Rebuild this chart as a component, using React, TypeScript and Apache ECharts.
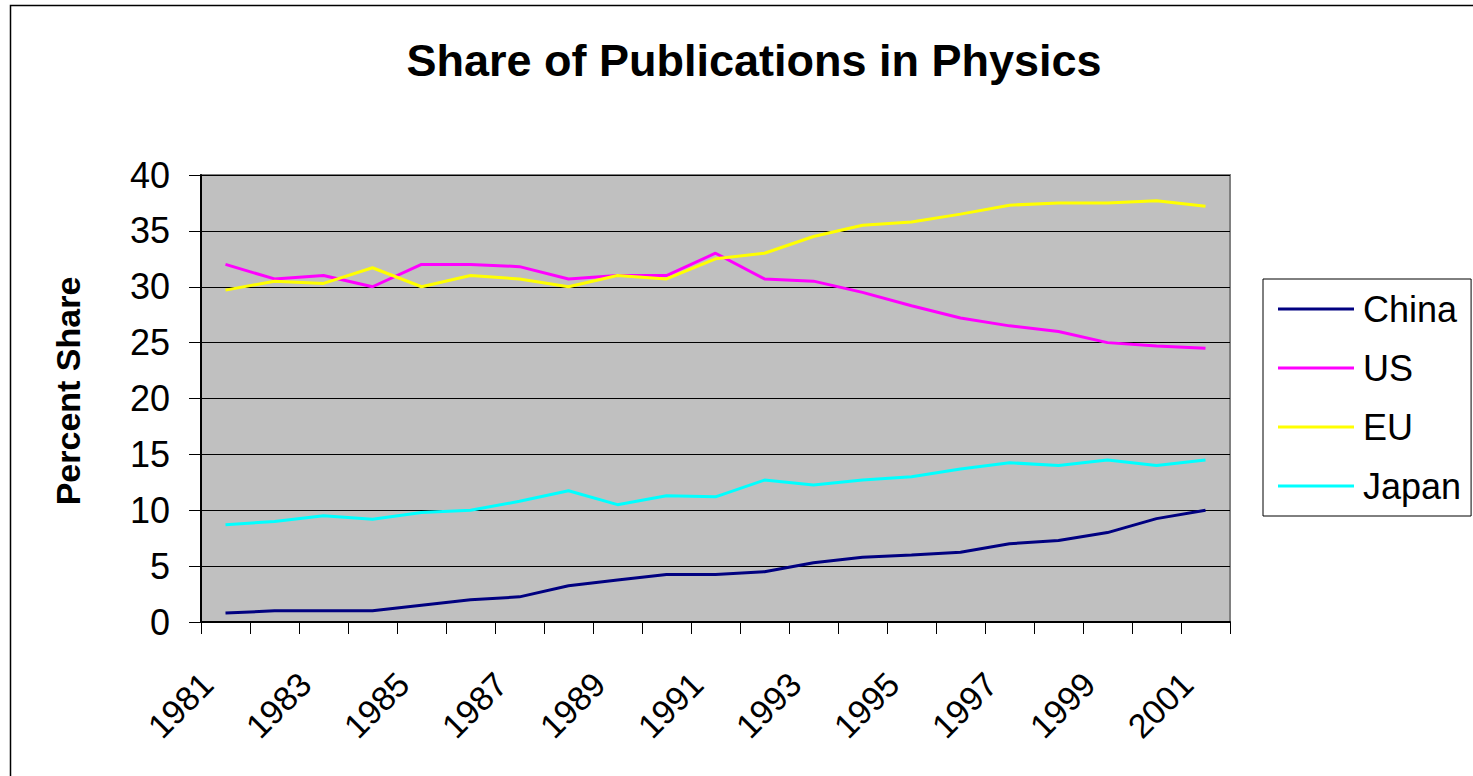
import React, { useEffect, useRef } from "react";
import * as echarts from "echarts";

const years = ["1981","1982","1983","1984","1985","1986","1987","1988","1989","1990","1991","1992","1993","1994","1995","1996","1997","1998","1999","2000","2001"];
const china = [0.8,1.0,1.0,1.0,1.5,2.0,2.25,3.25,3.75,4.25,4.25,4.5,5.3,5.8,6.0,6.25,7.0,7.3,8.0,9.25,10.0];
const us = [32.0,30.7,31.0,30.0,32.0,32.0,31.8,30.7,31.0,31.0,33.0,30.7,30.5,29.5,28.3,27.2,26.5,26.0,25.0,24.7,24.5];
const eu = [29.7,30.5,30.3,31.7,30.0,31.0,30.7,30.0,31.0,30.7,32.5,33.0,34.5,35.5,35.8,36.5,37.3,37.5,37.5,37.7,37.2];
const japan = [8.7,9.0,9.5,9.2,9.8,10.0,10.8,11.75,10.5,11.3,11.2,12.7,12.25,12.7,13.0,13.7,14.25,14.0,14.5,14.0,14.5];
const seriesNames = ["China","US","EU","Japan"];
const seriesColors = ["#000080","#FF00FF","#FFFF00","#00FFFF"];
const yTicks = { min: 0, max: 40, interval: 5 };

const FONT = "'Liberation Sans', Arial, sans-serif";

export default function App() {
  const ref = useRef<HTMLDivElement>(null);
  useEffect(() => {
    document.body.style.margin = "0";
    if (!ref.current) return;
    const chart = echarts.init(ref.current, undefined, { renderer: "svg" });
    const dataSets = [china, us, eu, japan];
    chart.setOption({
      animation: false,
      backgroundColor: "#ffffff",
      textStyle: { fontFamily: FONT },
      title: {
        text: "Share of Publications in Physics",
        left: 749,
        textAlign: "center",
        top: 33,
        textStyle: { fontFamily: FONT, fontSize: 45, fontWeight: "bold", color: "#000" },
      },
      graphic: [
        {
          type: "rect",
          shape: { x: 10.5, y: 5.5, width: 1500, height: 900 },
          style: { fill: "none", stroke: "#000", lineWidth: 1.5 },
          silent: true,
          z: -1,
        },
      ],
      legend: {
        orient: "vertical",
        left: 1263,
        top: 279,
        data: seriesNames,
        icon: "rect",
        itemWidth: 76,
        itemHeight: 3,
        itemGap: 23,
        padding: [12, 10, 12, 15],
        borderColor: "#000",
        borderWidth: 1,
        backgroundColor: "#fff",
        textStyle: { fontFamily: FONT, fontSize: 36, color: "#000", lineHeight: 36, padding: [0, 0, 0, 4] },
      },
      grid: {
        left: 201,
        right: 243,
        top: 175,
        bottom: 154,
        show: true,
        backgroundColor: "#C0C0C0",
        borderColor: "#808080",
        borderWidth: 2,
        containLabel: false,
      },
      xAxis: {
        type: "category",
        data: years,
        boundaryGap: true,
        axisLine: { show: true, lineStyle: { color: "#000", width: 2 } },
        axisTick: { show: true, interval: 0, length: 12, lineStyle: { color: "#000", width: 1 } },
        axisLabel: {
          interval: 1,
          rotate: 45,
          margin: 38,
          fontSize: 34,
          color: "#000",
          fontFamily: FONT,
          padding: [0, 26, 0, 0],
        },
        splitLine: { show: false },
      },
      yAxis: {
        type: "value",
        min: yTicks.min,
        max: yTicks.max,
        interval: yTicks.interval,
        name: "Percent Share",
        nameLocation: "middle",
        nameGap: 116,
        nameTextStyle: { fontFamily: FONT, fontSize: 34, fontWeight: "bold", color: "#000", padding: [0, 0, 0, 15] },
        axisLine: { show: true, lineStyle: { color: "#000", width: 2 } },
        axisTick: { show: true, length: 12, lineStyle: { color: "#000", width: 1 } },
        axisLabel: { fontSize: 36, color: "#000", margin: 31, fontFamily: FONT },
        splitLine: { show: true, lineStyle: { color: "#000", width: 1 } },
      },
      series: seriesNames.map((name, i) => ({
        name,
        type: "line",
        data: dataSets[i],
        symbol: "none",
        showSymbol: false,
        lineStyle: { color: seriesColors[i], width: 3 },
        itemStyle: { color: seriesColors[i] },
        z: 3,
      })),
    });
    return () => chart.dispose();
  }, []);
  return <div ref={ref} style={{ width: 1473, height: 776 }} />;
}
